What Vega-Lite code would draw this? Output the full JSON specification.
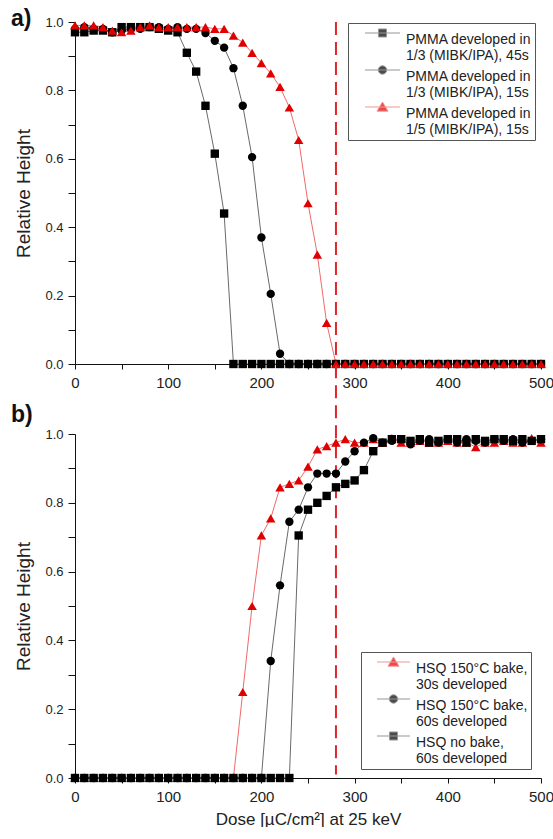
{
  "$schema": "https://vega.github.io/schema/vega-lite/v6.json",
  "padding": {"left": 11, "top": 8, "right": 0, "bottom": 0},
  "spacing": 70,
  "bounds": "flush",
  "resolve": {"scale": {"fill": "independent", "stroke": "independent", "shape": "independent"}},
  "datasets": {
    "top": [
      {"s":"A","x":0,"y":0.97},{"s":"A","x":10,"y":0.97},{"s":"A","x":20,"y":0.975},{"s":"A","x":30,"y":0.975},{"s":"A","x":40,"y":0.97},{"s":"A","x":50,"y":0.985},{"s":"A","x":60,"y":0.985},{"s":"A","x":70,"y":0.985},{"s":"A","x":80,"y":0.985},{"s":"A","x":90,"y":0.98},{"s":"A","x":100,"y":0.975},{"s":"A","x":110,"y":0.97},{"s":"A","x":120,"y":0.91},{"s":"A","x":130,"y":0.855},{"s":"A","x":140,"y":0.755},{"s":"A","x":150,"y":0.615},{"s":"A","x":160,"y":0.44},
      {"s":"A","x":170,"y":0},{"s":"A","x":180,"y":0},{"s":"A","x":190,"y":0},{"s":"A","x":200,"y":0},{"s":"A","x":210,"y":0},{"s":"A","x":220,"y":0},{"s":"A","x":230,"y":0},{"s":"A","x":240,"y":0},{"s":"A","x":250,"y":0},{"s":"A","x":260,"y":0},{"s":"A","x":270,"y":0},{"s":"A","x":280,"y":0},{"s":"A","x":290,"y":0},{"s":"A","x":300,"y":0},{"s":"A","x":310,"y":0},{"s":"A","x":320,"y":0},{"s":"A","x":330,"y":0},{"s":"A","x":340,"y":0},{"s":"A","x":350,"y":0},{"s":"A","x":360,"y":0},{"s":"A","x":370,"y":0},{"s":"A","x":380,"y":0},{"s":"A","x":390,"y":0},{"s":"A","x":400,"y":0},{"s":"A","x":410,"y":0},{"s":"A","x":420,"y":0},{"s":"A","x":430,"y":0},{"s":"A","x":440,"y":0},{"s":"A","x":450,"y":0},{"s":"A","x":460,"y":0},{"s":"A","x":470,"y":0},{"s":"A","x":480,"y":0},{"s":"A","x":490,"y":0},{"s":"A","x":500,"y":0},
      {"s":"B","x":0,"y":0.98},{"s":"B","x":10,"y":0.985},{"s":"B","x":20,"y":0.98},{"s":"B","x":30,"y":0.98},{"s":"B","x":40,"y":0.97},{"s":"B","x":50,"y":0.975},{"s":"B","x":60,"y":0.98},{"s":"B","x":70,"y":0.98},{"s":"B","x":80,"y":0.985},{"s":"B","x":90,"y":0.985},{"s":"B","x":100,"y":0.98},{"s":"B","x":110,"y":0.985},{"s":"B","x":120,"y":0.98},{"s":"B","x":130,"y":0.98},{"s":"B","x":140,"y":0.968},{"s":"B","x":150,"y":0.945},{"s":"B","x":160,"y":0.925},{"s":"B","x":170,"y":0.865},{"s":"B","x":180,"y":0.755},{"s":"B","x":190,"y":0.605},{"s":"B","x":200,"y":0.37},{"s":"B","x":210,"y":0.205},{"s":"B","x":220,"y":0.03},
      {"s":"B","x":230,"y":0},{"s":"B","x":240,"y":0},{"s":"B","x":250,"y":0},{"s":"B","x":260,"y":0},{"s":"B","x":270,"y":0},{"s":"B","x":280,"y":0},{"s":"B","x":290,"y":0},{"s":"B","x":300,"y":0},{"s":"B","x":310,"y":0},{"s":"B","x":320,"y":0},{"s":"B","x":330,"y":0},{"s":"B","x":340,"y":0},{"s":"B","x":350,"y":0},{"s":"B","x":360,"y":0},{"s":"B","x":370,"y":0},{"s":"B","x":380,"y":0},{"s":"B","x":390,"y":0},{"s":"B","x":400,"y":0},{"s":"B","x":410,"y":0},{"s":"B","x":420,"y":0},{"s":"B","x":430,"y":0},{"s":"B","x":440,"y":0},{"s":"B","x":450,"y":0},{"s":"B","x":460,"y":0},{"s":"B","x":470,"y":0},{"s":"B","x":480,"y":0},{"s":"B","x":490,"y":0},{"s":"B","x":500,"y":0},
      {"s":"C","x":0,"y":0.99},{"s":"C","x":10,"y":0.99},{"s":"C","x":20,"y":0.99},{"s":"C","x":30,"y":0.985},{"s":"C","x":40,"y":0.975},{"s":"C","x":50,"y":0.97},{"s":"C","x":60,"y":0.975},{"s":"C","x":70,"y":0.985},{"s":"C","x":80,"y":0.99},{"s":"C","x":90,"y":0.985},{"s":"C","x":100,"y":0.985},{"s":"C","x":110,"y":0.985},{"s":"C","x":120,"y":0.985},{"s":"C","x":130,"y":0.985},{"s":"C","x":140,"y":0.985},{"s":"C","x":150,"y":0.98},{"s":"C","x":160,"y":0.98},{"s":"C","x":170,"y":0.96},{"s":"C","x":180,"y":0.94},{"s":"C","x":190,"y":0.91},{"s":"C","x":200,"y":0.88},{"s":"C","x":210,"y":0.85},{"s":"C","x":220,"y":0.81},{"s":"C","x":230,"y":0.75},{"s":"C","x":240,"y":0.655},{"s":"C","x":250,"y":0.47},{"s":"C","x":260,"y":0.32},{"s":"C","x":270,"y":0.12},
      {"s":"C","x":280,"y":0},{"s":"C","x":290,"y":0},{"s":"C","x":300,"y":0},{"s":"C","x":310,"y":0},{"s":"C","x":320,"y":0},{"s":"C","x":330,"y":0},{"s":"C","x":340,"y":0},{"s":"C","x":350,"y":0},{"s":"C","x":360,"y":0},{"s":"C","x":370,"y":0},{"s":"C","x":380,"y":0},{"s":"C","x":390,"y":0},{"s":"C","x":400,"y":0},{"s":"C","x":410,"y":0},{"s":"C","x":420,"y":0},{"s":"C","x":430,"y":0},{"s":"C","x":440,"y":0},{"s":"C","x":450,"y":0},{"s":"C","x":460,"y":0},{"s":"C","x":470,"y":0},{"s":"C","x":480,"y":0},{"s":"C","x":490,"y":0},{"s":"C","x":500,"y":0}
    ],
    "bot": [
      {"s":"T","x":0,"y":0},{"s":"T","x":10,"y":0},{"s":"T","x":20,"y":0},{"s":"T","x":30,"y":0},{"s":"T","x":40,"y":0},{"s":"T","x":50,"y":0},{"s":"T","x":60,"y":0},{"s":"T","x":70,"y":0},{"s":"T","x":80,"y":0},{"s":"T","x":90,"y":0},{"s":"T","x":100,"y":0},{"s":"T","x":110,"y":0},{"s":"T","x":120,"y":0},{"s":"T","x":130,"y":0},{"s":"T","x":140,"y":0},{"s":"T","x":150,"y":0},{"s":"T","x":160,"y":0},{"s":"T","x":170,"y":0},
      {"s":"T","x":180,"y":0.25},{"s":"T","x":190,"y":0.5},{"s":"T","x":200,"y":0.705},{"s":"T","x":210,"y":0.755},{"s":"T","x":220,"y":0.845},{"s":"T","x":230,"y":0.855},{"s":"T","x":240,"y":0.865},{"s":"T","x":250,"y":0.905},{"s":"T","x":260,"y":0.955},{"s":"T","x":270,"y":0.965},{"s":"T","x":280,"y":0.975},{"s":"T","x":290,"y":0.985},{"s":"T","x":300,"y":0.975},{"s":"T","x":310,"y":0.975},{"s":"T","x":320,"y":0.985},{"s":"T","x":330,"y":0.975},{"s":"T","x":340,"y":0.988},{"s":"T","x":350,"y":0.975},{"s":"T","x":360,"y":0.975},{"s":"T","x":370,"y":0.98},{"s":"T","x":380,"y":0.975},{"s":"T","x":390,"y":0.975},{"s":"T","x":400,"y":0.98},{"s":"T","x":410,"y":0.975},{"s":"T","x":420,"y":0.975},{"s":"T","x":430,"y":0.962},{"s":"T","x":440,"y":0.975},{"s":"T","x":450,"y":0.975},{"s":"T","x":460,"y":0.98},{"s":"T","x":470,"y":0.975},{"s":"T","x":480,"y":0.975},{"s":"T","x":490,"y":0.988},{"s":"T","x":500,"y":0.975},
      {"s":"C","x":0,"y":0},{"s":"C","x":10,"y":0},{"s":"C","x":20,"y":0},{"s":"C","x":30,"y":0},{"s":"C","x":40,"y":0},{"s":"C","x":50,"y":0},{"s":"C","x":60,"y":0},{"s":"C","x":70,"y":0},{"s":"C","x":80,"y":0},{"s":"C","x":90,"y":0},{"s":"C","x":100,"y":0},{"s":"C","x":110,"y":0},{"s":"C","x":120,"y":0},{"s":"C","x":130,"y":0},{"s":"C","x":140,"y":0},{"s":"C","x":150,"y":0},{"s":"C","x":160,"y":0},{"s":"C","x":170,"y":0},{"s":"C","x":180,"y":0},{"s":"C","x":190,"y":0},{"s":"C","x":200,"y":0},
      {"s":"C","x":210,"y":0.34},{"s":"C","x":220,"y":0.56},{"s":"C","x":230,"y":0.745},{"s":"C","x":240,"y":0.78},{"s":"C","x":250,"y":0.845},{"s":"C","x":260,"y":0.885},{"s":"C","x":270,"y":0.885},{"s":"C","x":280,"y":0.885},{"s":"C","x":290,"y":0.92},{"s":"C","x":300,"y":0.95},{"s":"C","x":310,"y":0.975},{"s":"C","x":320,"y":0.988},{"s":"C","x":330,"y":0.975},{"s":"C","x":340,"y":0.98},{"s":"C","x":350,"y":0.985},{"s":"C","x":360,"y":0.97},{"s":"C","x":370,"y":0.98},{"s":"C","x":380,"y":0.985},{"s":"C","x":390,"y":0.975},{"s":"C","x":400,"y":0.985},{"s":"C","x":410,"y":0.975},{"s":"C","x":420,"y":0.985},{"s":"C","x":430,"y":0.98},{"s":"C","x":440,"y":0.975},{"s":"C","x":450,"y":0.985},{"s":"C","x":460,"y":0.98},{"s":"C","x":470,"y":0.985},{"s":"C","x":480,"y":0.975},{"s":"C","x":490,"y":0.98},{"s":"C","x":500,"y":0.985},
      {"s":"S","x":0,"y":0},{"s":"S","x":10,"y":0},{"s":"S","x":20,"y":0},{"s":"S","x":30,"y":0},{"s":"S","x":40,"y":0},{"s":"S","x":50,"y":0},{"s":"S","x":60,"y":0},{"s":"S","x":70,"y":0},{"s":"S","x":80,"y":0},{"s":"S","x":90,"y":0},{"s":"S","x":100,"y":0},{"s":"S","x":110,"y":0},{"s":"S","x":120,"y":0},{"s":"S","x":130,"y":0},{"s":"S","x":140,"y":0},{"s":"S","x":150,"y":0},{"s":"S","x":160,"y":0},{"s":"S","x":170,"y":0},{"s":"S","x":180,"y":0},{"s":"S","x":190,"y":0},{"s":"S","x":200,"y":0},{"s":"S","x":210,"y":0},{"s":"S","x":220,"y":0},{"s":"S","x":230,"y":0},
      {"s":"S","x":240,"y":0.705},{"s":"S","x":250,"y":0.78},{"s":"S","x":260,"y":0.8},{"s":"S","x":270,"y":0.82},{"s":"S","x":280,"y":0.845},{"s":"S","x":290,"y":0.855},{"s":"S","x":300,"y":0.865},{"s":"S","x":310,"y":0.895},{"s":"S","x":320,"y":0.95},{"s":"S","x":330,"y":0.975},{"s":"S","x":340,"y":0.985},{"s":"S","x":350,"y":0.985},{"s":"S","x":360,"y":0.98},{"s":"S","x":370,"y":0.985},{"s":"S","x":380,"y":0.975},{"s":"S","x":390,"y":0.98},{"s":"S","x":400,"y":0.985},{"s":"S","x":410,"y":0.985},{"s":"S","x":420,"y":0.975},{"s":"S","x":430,"y":0.985},{"s":"S","x":440,"y":0.98},{"s":"S","x":450,"y":0.985},{"s":"S","x":460,"y":0.985},{"s":"S","x":470,"y":0.98},{"s":"S","x":480,"y":0.985},{"s":"S","x":490,"y":0.98},{"s":"S","x":500,"y":0.985}
    ]
  },
  "vconcat": [
    {
      "width": 466,
      "height": 342,
      "title": {"text": "a)", "anchor": "start", "frame": "group", "dx": -64, "offset": -15, "fontSize": 23, "fontWeight": "bold", "font": "Liberation Sans", "color": "#111"},
      "data": {"name": "top"},
      "encoding": {
        "x": {"field": "x", "type": "quantitative", "scale": {"domain": [0, 500], "nice": false, "zero": false},
          "axis": {"values": [0,50,100,150,200,250,300,350,400,450,500], "labelExpr": "datum.value % 100 == 0 ? datum.label : ''", "title": null}},
        "y": {"field": "y", "type": "quantitative", "scale": {"domain": [0, 1], "nice": false},
          "axis": {"values": [0,0.1,0.2,0.3,0.4,0.5,0.6,0.7,0.8,0.9,1], "labelExpr": "round(datum.value*10) % 2 == 0 ? format(datum.value, '.1f') : ''", "title": "Relative Height"}}
      },
      "layer": [
        {
          "data": {"values": [{"x": 280, "y": 1, "y2": 0}]},
          "mark": {"type": "rule", "color": "#e0262a", "strokeWidth": 2, "strokeDash": [13, 7], "clip": false},
          "encoding": {"y2": {"field": "y2"}}
        },
        {
          "transform": [{"filter": "datum.s != 'C'"}],
          "mark": {"type": "line", "strokeWidth": 1, "color": "#6a6a6a"},
          "encoding": {"detail": {"field": "s"}}
        },
        {
          "transform": [{"filter": "datum.s == 'C'"}],
          "mark": {"type": "line", "strokeWidth": 1, "color": "#f06a6a"},
          "encoding": {}
        },
        {
          "transform": [{"filter": "datum.s == 'A'"}],
          "mark": {"type": "point", "shape": "square", "filled": true, "size": 70, "color": "#000", "opacity": 1}
        },
        {
          "transform": [{"filter": "datum.s == 'B'"}],
          "mark": {"type": "point", "shape": "circle", "filled": true, "size": 70, "color": "#000", "opacity": 1}
        },
        {
          "transform": [{"filter": "datum.s == 'C'"}],
          "mark": {"type": "point", "shape": "triangle-up", "filled": true, "size": 90, "color": "#e00000", "opacity": 1}
        },
        {
          "mark": {"type": "point", "filled": true, "size": 0, "strokeWidth": 1},
          "encoding": {
            "fill": {"field": "s", "type": "nominal", "scale": {"domain": ["A","B","C"], "range": ["#000","#000","#e00000"]},
              "legend": {"title": null, "orient": "none", "legendX": 273, "legendY": 1, "padding": 3, "labelOffset": 41, "symbolFillColor": "#000", "symbolStrokeColor": "#666", "labelExpr": "datum.label == 'A' ? ['PMMA developed in\u00a0\u00a0\u00a0', '\u00a01/3 (MIBK/IPA), 45s'] : datum.label == 'B' ? ['PMMA developed in\u00a0\u00a0\u00a0', '\u00a01/3 (MIBK/IPA), 15s'] : ['PMMA developed in\u00a0\u00a0\u00a0', '\u00a01/5 (MIBK/IPA), 15s']", "encode": {"labels": {"update": {"dy": {"value": -8}, "lineHeight": {"value": 17}}}}}},
            "stroke": {"field": "s", "type": "nominal", "scale": {"domain": ["A","B","C"], "range": ["#6a6a6a","#6a6a6a","#f06a6a"]},
              "legend": {"title": null, "orient": "none", "legendX": 273, "legendY": 1, "padding": 3, "labelOffset": 41, "symbolFillColor": "#000", "symbolStrokeColor": "#666", "labelExpr": "datum.label == 'A' ? ['PMMA developed in\u00a0\u00a0\u00a0', '\u00a01/3 (MIBK/IPA), 45s'] : datum.label == 'B' ? ['PMMA developed in\u00a0\u00a0\u00a0', '\u00a01/3 (MIBK/IPA), 15s'] : ['PMMA developed in\u00a0\u00a0\u00a0', '\u00a01/5 (MIBK/IPA), 15s']", "encode": {"labels": {"update": {"dy": {"value": -8}, "lineHeight": {"value": 17}}}}}},
            "shape": {"field": "s", "type": "nominal", "scale": {"domain": ["A","B","C"], "range": ["M1.4,0H8.4M4.1,-0.8H5.7V0.8H4.1Z", "M1.4,0H8.4M4.06,0A0.84,0.84,0,1,0,5.74,0A0.84,0.84,0,1,0,4.06,0Z", "M1.4,0H8.4M4.9,-1L6,0.84L3.8,0.84Z"]},
              "legend": {"title": null, "orient": "none", "legendX": 273, "legendY": 1, "padding": 3, "labelOffset": 41, "symbolFillColor": "#000", "symbolStrokeColor": "#666", "labelExpr": "datum.label == 'A' ? ['PMMA developed in\u00a0\u00a0\u00a0', '\u00a01/3 (MIBK/IPA), 45s'] : datum.label == 'B' ? ['PMMA developed in\u00a0\u00a0\u00a0', '\u00a01/3 (MIBK/IPA), 15s'] : ['PMMA developed in\u00a0\u00a0\u00a0', '\u00a01/5 (MIBK/IPA), 15s']", "encode": {"labels": {"update": {"dy": {"value": -8}, "lineHeight": {"value": 17}}}}}}
          }
        }
      ]
    },
    {
      "width": 466,
      "height": 344,
      "title": {"text": "b)", "anchor": "start", "frame": "group", "dx": -64, "offset": -63, "fontSize": 23, "fontWeight": "bold", "font": "Liberation Sans", "color": "#111"},
      "data": {"name": "bot"},
      "encoding": {
        "x": {"field": "x", "type": "quantitative", "scale": {"domain": [0, 500], "nice": false, "zero": false},
          "axis": {"values": [0,50,100,150,200,250,300,350,400,450,500], "labelExpr": "datum.value % 100 == 0 ? datum.label : ''", "title": "Dose [µC/cm²] at 25 keV"}},
        "y": {"field": "y", "type": "quantitative", "scale": {"domain": [0, 1], "nice": false},
          "axis": {"values": [0,0.1,0.2,0.3,0.4,0.5,0.6,0.7,0.8,0.9,1], "labelExpr": "round(datum.value*10) % 2 == 0 ? format(datum.value, '.1f') : ''", "title": "Relative Height"}}
      },
      "layer": [
        {
          "data": {"values": [{"x": 280, "y": 1.2, "y2": 0.01}]},
          "mark": {"type": "rule", "color": "#e0262a", "strokeWidth": 2, "strokeDash": [13, 7], "clip": false},
          "encoding": {"y2": {"field": "y2"}}
        },
        {
          "transform": [{"filter": "datum.s == 'T'"}],
          "mark": {"type": "line", "strokeWidth": 1, "color": "#f06a6a"},
          "encoding": {}
        },
        {
          "transform": [{"filter": "datum.s != 'T'"}],
          "mark": {"type": "line", "strokeWidth": 1, "color": "#6a6a6a"},
          "encoding": {"detail": {"field": "s"}}
        },
        {
          "transform": [{"filter": "datum.s == 'T'"}],
          "mark": {"type": "point", "shape": "triangle-up", "filled": true, "size": 90, "color": "#e00000", "opacity": 1}
        },
        {
          "transform": [{"filter": "datum.s == 'C'"}],
          "mark": {"type": "point", "shape": "circle", "filled": true, "size": 70, "color": "#000", "opacity": 1}
        },
        {
          "transform": [{"filter": "datum.s == 'S'"}],
          "mark": {"type": "point", "shape": "square", "filled": true, "size": 70, "color": "#000", "opacity": 1}
        },
        {
          "mark": {"type": "point", "filled": true, "size": 0, "strokeWidth": 1},
          "encoding": {
            "fill": {"field": "s", "type": "nominal", "scale": {"domain": ["T","C","S"], "range": ["#e00000","#000","#000"]},
              "legend": {"title": null, "orient": "none", "legendX": 286, "legendY": 218, "padding": 3, "labelOffset": 38, "symbolFillColor": "#000", "symbolStrokeColor": "#666", "labelExpr": "datum.label == 'T' ? ['HSQ 150°C bake,\u00a0\u00a0\u00a0\u00a0', '\u00a0\u00a030s developed'] : datum.label == 'C' ? ['HSQ 150°C bake,\u00a0\u00a0\u00a0\u00a0', '\u00a0\u00a060s developed'] : ['HSQ no bake,', '\u00a0\u00a060s developed']", "encode": {"labels": {"update": {"dy": {"value": -8}, "lineHeight": {"value": 17}}}}}},
            "stroke": {"field": "s", "type": "nominal", "scale": {"domain": ["T","C","S"], "range": ["#f06a6a","#6a6a6a","#6a6a6a"]},
              "legend": {"title": null, "orient": "none", "legendX": 286, "legendY": 218, "padding": 3, "labelOffset": 38, "symbolFillColor": "#000", "symbolStrokeColor": "#666", "labelExpr": "datum.label == 'T' ? ['HSQ 150°C bake,\u00a0\u00a0\u00a0\u00a0', '\u00a0\u00a030s developed'] : datum.label == 'C' ? ['HSQ 150°C bake,\u00a0\u00a0\u00a0\u00a0', '\u00a0\u00a060s developed'] : ['HSQ no bake,', '\u00a0\u00a060s developed']", "encode": {"labels": {"update": {"dy": {"value": -8}, "lineHeight": {"value": 17}}}}}},
            "shape": {"field": "s", "type": "nominal", "scale": {"domain": ["T","C","S"], "range": ["M1.2,0H7.8M4.5,-1L5.6,0.84L3.4,0.84Z", "M1.2,0H7.8M3.66,0A0.84,0.84,0,1,0,5.34,0A0.84,0.84,0,1,0,3.66,0Z", "M1.2,0H7.8M3.7,-0.8H5.3V0.8H3.7Z"]},
              "legend": {"title": null, "orient": "none", "legendX": 286, "legendY": 218, "padding": 3, "labelOffset": 38, "symbolFillColor": "#000", "symbolStrokeColor": "#666", "labelExpr": "datum.label == 'T' ? ['HSQ 150°C bake,\u00a0\u00a0\u00a0\u00a0', '\u00a0\u00a030s developed'] : datum.label == 'C' ? ['HSQ 150°C bake,\u00a0\u00a0\u00a0\u00a0', '\u00a0\u00a060s developed'] : ['HSQ no bake,', '\u00a0\u00a060s developed']", "encode": {"labels": {"update": {"dy": {"value": -8}, "lineHeight": {"value": 17}}}}}}
          }
        }
      ]
    }
  ],
  "config": {
    "view": {"stroke": null},
    "font": "Liberation Sans",
    "axis": {"grid": false, "domainColor": "#111", "tickColor": "#111", "labelColor": "#222", "titleColor": "#222", "labelFont": "Liberation Sans", "titleFont": "Liberation Sans", "titleFontWeight": "normal", "labelOverlap": false, "labelFlush": false},
    "axisX": {"labelFontSize": 15, "labelPadding": 6, "tickSize": 5, "titleFontSize": 17, "titlePadding": 7},
    "axisY": {"labelFontSize": 13, "labelPadding": 5, "tickSize": 7, "titleFontSize": 19, "titlePadding": 11},
    "legend": {"strokeColor": "#555", "fillColor": "#fff", "labelFont": "Liberation Sans", "labelFontSize": 14, "labelColor": "#222", "labelBaseline": "top", "symbolSize": 100, "symbolStrokeWidth": 1, "rowPadding": -3, "labelLimit": 300}
  }
}
